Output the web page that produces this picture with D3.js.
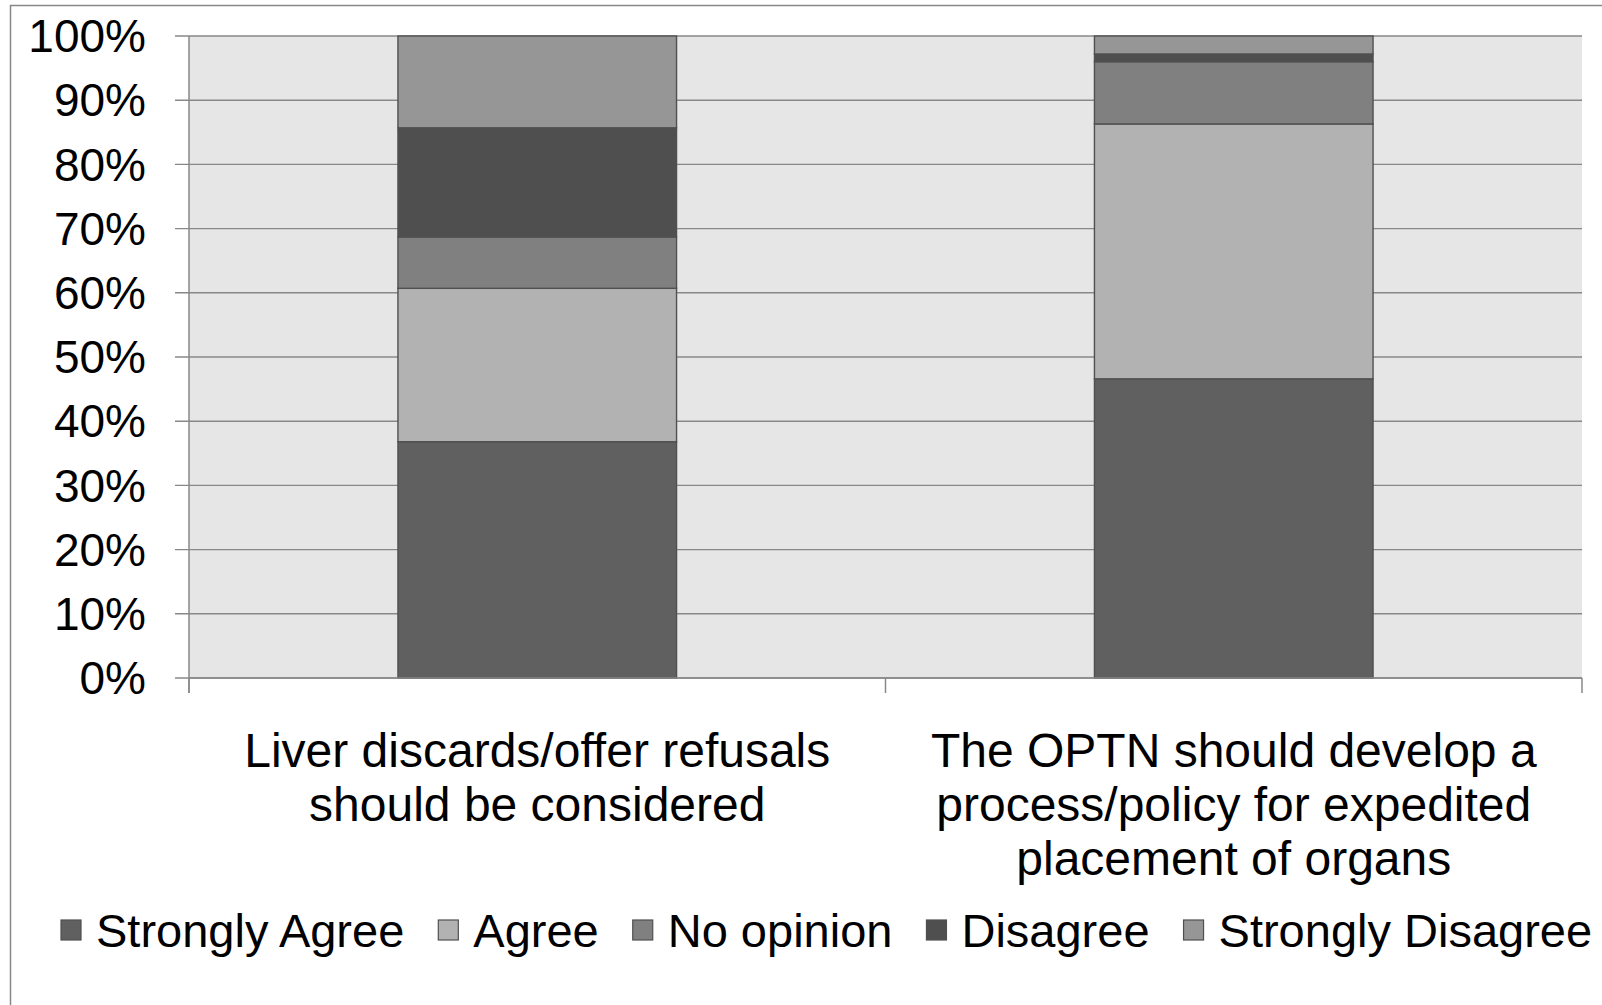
<!DOCTYPE html>
<html lang="en">
<head>
<meta charset="utf-8"/>
<title>Liver discards survey</title>
<script src="https://cdn.jsdelivr.net/npm/d3@7/dist/d3.min.js"></script>
<style>
  html, body { margin:0; padding:0; background:#fff; overflow:hidden; }
  svg { display:block; font-family:"Liberation Sans", Arial, sans-serif; }
</style>
</head>
<body>
<svg id="chart" width="1602" height="1005"></svg>
<script>
// categories (multi-line labels)
const categories = [
  ["Liver discards/offer refusals", "should be considered"],
  ["The OPTN should develop a", "process/policy for expedited", "placement of organs"]
];
const seriesNames  = ["Strongly Agree", "Agree", "No opinion", "Disagree", "Strongly Disagree"];
const seriesColors = ["#606060", "#b2b2b2", "#808080", "#4f4f4f", "#969696"];
// percentages per series, one value per category
const stronglyAgree    = [36.8, 46.6];
const agree            = [23.9, 39.7];
const noOpinion        = [ 8.0,  9.7];
const disagree         = [17.0,  1.2];
const stronglyDisagree = [14.3,  2.8];
const yTicks = [0,10,20,30,40,50,60,70,80,90,100];

const svg = d3.select("#chart");
const W = 1602, H = 1005;
const plot = {left:189, right:1582, top:36, bottom:678};

// outer chart border (runs off the right/bottom edge)
svg.append("rect")
  .attr("x",10.5).attr("y",5.5)
  .attr("width",W).attr("height",H)
  .attr("fill","none").attr("stroke","#888").attr("stroke-width",1.5);

const keys = categories.map((c,i)=>"c"+i);
const x = d3.scaleBand().domain(keys).range([plot.left, plot.right]).padding(0);
const y = d3.scaleLinear().domain([0,100]).range([plot.bottom, plot.top]);

// plot background
svg.append("rect")
  .attr("x",plot.left).attr("y",plot.top)
  .attr("width",plot.right-plot.left).attr("height",plot.bottom-plot.top)
  .attr("fill","#e6e6e6");

// gridlines
svg.append("g").selectAll("line").data(yTicks).join("line")
  .attr("x1",plot.left-14).attr("x2",plot.right)
  .attr("y1",d=>y(d)).attr("y2",d=>y(d))
  .attr("stroke","#888").attr("stroke-width",1.4);

// y labels
svg.append("g").selectAll("text").data(yTicks).join("text")
  .attr("x",146).attr("y",d=>y(d)).attr("dy","0.35em")
  .attr("text-anchor","end").attr("font-size",46).attr("fill","#000")
  .text(d=>d+"%");

// axes lines
svg.append("line").attr("x1",plot.left).attr("x2",plot.left)
  .attr("y1",plot.top).attr("y2",plot.bottom+15)
  .attr("stroke","#888").attr("stroke-width",1.5);
const catTicks = keys.map(k=>x(k)).concat([x(keys[keys.length-1])+x.bandwidth()]);
svg.append("g").selectAll("line").data(catTicks).join("line")
  .attr("x1",d=>d).attr("x2",d=>d)
  .attr("y1",plot.bottom).attr("y2",plot.bottom+15)
  .attr("stroke","#888").attr("stroke-width",1.5);

// stacked bars
const table = keys.map((k,i)=>({
  key:k,
  "Strongly Agree":stronglyAgree[i],
  "Agree":agree[i],
  "No opinion":noOpinion[i],
  "Disagree":disagree[i],
  "Strongly Disagree":stronglyDisagree[i]
}));
const stacked = d3.stack().keys(seriesNames)(table);
const barW = x.bandwidth()*0.4;
const color = d3.scaleOrdinal().domain(seriesNames).range(seriesColors);

svg.append("g").selectAll("g").data(stacked).join("g")
  .attr("fill",d=>color(d.key))
  .selectAll("rect").data(d=>d).join("rect")
    .attr("x",d=>x(d.data.key)+(x.bandwidth()-barW)/2)
    .attr("width",barW)
    .attr("y",d=>y(d[1]))
    .attr("height",d=>y(d[0])-y(d[1]))
    .attr("stroke","#505050").attr("stroke-width",1.4);

// bottom axis line on top of bars
svg.append("line").attr("x1",plot.left).attr("x2",plot.right)
  .attr("y1",plot.bottom).attr("y2",plot.bottom)
  .attr("stroke","#888").attr("stroke-width",1.5);

// category labels
const catG = svg.append("g").selectAll("text").data(categories).join("text")
  .attr("text-anchor","middle").attr("font-size",48).attr("fill","#000")
  .attr("transform",(d,i)=>`translate(${x(keys[i])+x.bandwidth()/2},767)`);
catG.selectAll("tspan").data(d=>d).join("tspan")
  .attr("x",0).attr("y",(d,j)=>j*54).text(d=>d);

// legend
const leg = svg.append("g");
const items = leg.selectAll("g").data(seriesNames).join("g");
items.append("rect")
  .attr("width",20).attr("height",20).attr("y",920)
  .attr("fill",d=>color(d)).attr("stroke","#505050").attr("stroke-width",1.2);
items.append("text")
  .attr("x",35).attr("y",947).attr("font-size",47).attr("fill","#000")
  .text(d=>d);
let cx = 61;
items.each(function(){
  const g = d3.select(this);
  g.attr("transform",`translate(${cx},0)`);
  cx += 35 + g.select("text").node().getComputedTextLength() + 34;
});
</script>
</body>
</html>
